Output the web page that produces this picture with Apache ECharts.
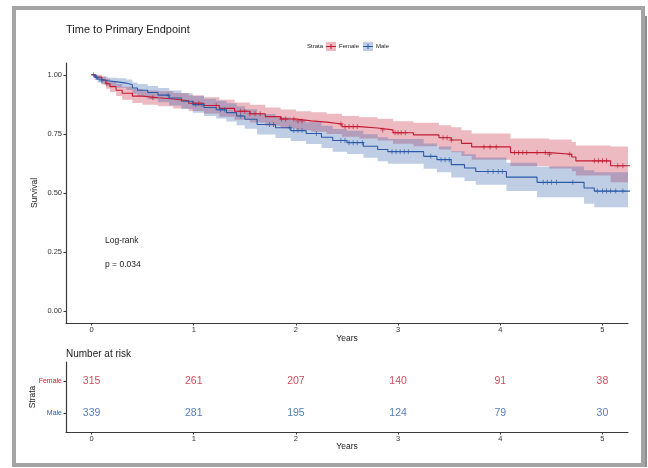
<!DOCTYPE html>
<html>
<head>
<meta charset="utf-8">
<script src="https://cdn.jsdelivr.net/npm/echarts@6/dist/echarts.min.js"></script>
<style>
html, body { margin: 0; padding: 0; background: #fff; }
#chart { width: 648px; height: 468px; }
</style>
</head>
<body>
<div id="chart"></div>
<script>
// Kaplan-Meier estimates (time in years, survival)
const femaleTime = [0, 0.04, 0.10, 0.14, 0.18, 0.24, 0.30, 0.40, 0.50, 0.65, 0.80, 0.95, 1.10, 1.25, 1.40, 1.55, 1.70, 1.85, 2.00, 2.15, 2.30, 2.45, 2.62, 2.80, 2.95, 3.15, 3.40, 3.52, 3.62, 3.72, 4.10, 4.48, 4.70, 4.74, 5.08, 5.50]
const femaleSurv = [1.000, 0.990, 0.978, 0.962, 0.950, 0.935, 0.922, 0.910, 0.903, 0.898, 0.890, 0.880, 0.870, 0.858, 0.846, 0.835, 0.823, 0.813, 0.805, 0.800, 0.792, 0.781, 0.775, 0.767, 0.755, 0.746, 0.734, 0.724, 0.710, 0.695, 0.671, 0.664, 0.652, 0.636, 0.615, 0.615]
const femaleUpper = [1.000, 1.000, 0.994, 0.983, 0.973, 0.961, 0.950, 0.940, 0.934, 0.930, 0.923, 0.914, 0.905, 0.894, 0.883, 0.873, 0.862, 0.853, 0.846, 0.842, 0.835, 0.826, 0.821, 0.814, 0.804, 0.797, 0.787, 0.778, 0.766, 0.752, 0.731, 0.726, 0.716, 0.701, 0.697, 0.697]
const femaleLower = [1.000, 0.979, 0.962, 0.941, 0.927, 0.910, 0.895, 0.881, 0.873, 0.867, 0.858, 0.847, 0.836, 0.823, 0.810, 0.798, 0.785, 0.774, 0.765, 0.759, 0.750, 0.738, 0.731, 0.722, 0.708, 0.698, 0.684, 0.672, 0.657, 0.641, 0.614, 0.604, 0.592, 0.574, 0.545, 0.545]
const femaleCensor = [0.02, 0.15, 0.60, 1.00, 1.05, 1.22, 1.46, 1.50, 1.55, 1.60, 1.65, 1.86, 1.90, 1.98, 2.02, 2.06, 2.44, 2.48, 2.52, 2.56, 2.60, 2.85, 2.97, 3.00, 3.03, 3.07, 3.44, 3.48, 3.52, 3.84, 3.90, 3.96, 4.14, 4.18, 4.22, 4.26, 4.36, 4.44, 4.48, 4.68, 4.92, 4.96, 5.00, 5.04, 5.15, 5.20]

const maleTime = [0, 0.03, 0.06, 0.10, 0.16, 0.25, 0.34, 0.40, 0.45, 0.55, 0.65, 0.76, 0.88, 0.99, 1.10, 1.22, 1.32, 1.42, 1.50, 1.62, 1.80, 1.95, 2.10, 2.25, 2.36, 2.50, 2.66, 2.80, 2.90, 3.25, 3.38, 3.52, 3.65, 3.76, 4.06, 4.36, 4.82, 4.92, 5.50]
const maleSurv = [1.000, 0.990, 0.981, 0.975, 0.970, 0.965, 0.958, 0.944, 0.935, 0.925, 0.914, 0.902, 0.888, 0.874, 0.862, 0.852, 0.840, 0.826, 0.812, 0.790, 0.776, 0.764, 0.752, 0.736, 0.722, 0.713, 0.698, 0.684, 0.675, 0.655, 0.641, 0.620, 0.606, 0.591, 0.567, 0.545, 0.521, 0.508, 0.508]
const maleUpper = [1.000, 1.000, 0.995, 0.992, 0.988, 0.985, 0.980, 0.968, 0.961, 0.953, 0.944, 0.934, 0.922, 0.910, 0.899, 0.890, 0.880, 0.867, 0.854, 0.834, 0.821, 0.810, 0.799, 0.784, 0.771, 0.763, 0.749, 0.736, 0.728, 0.709, 0.697, 0.677, 0.664, 0.650, 0.628, 0.612, 0.596, 0.588, 0.588]
const maleLower = [1.000, 0.979, 0.967, 0.959, 0.952, 0.945, 0.936, 0.920, 0.909, 0.897, 0.884, 0.870, 0.855, 0.839, 0.826, 0.815, 0.802, 0.787, 0.772, 0.748, 0.733, 0.720, 0.707, 0.690, 0.675, 0.665, 0.649, 0.634, 0.624, 0.603, 0.588, 0.566, 0.551, 0.535, 0.508, 0.482, 0.455, 0.440, 0.440]
const maleCensor = [0.05, 0.10, 0.75, 1.02, 1.08, 1.26, 1.30, 1.46, 1.74, 1.78, 1.94, 1.98, 2.02, 2.06, 2.20, 2.44, 2.48, 2.52, 2.56, 2.60, 2.65, 2.94, 2.98, 3.02, 3.06, 3.10, 3.32, 3.42, 3.46, 3.50, 3.88, 3.93, 3.98, 4.02, 4.42, 4.46, 4.50, 4.55, 4.71, 4.95, 5.00, 5.04, 5.08, 5.13, 5.20]

// number at risk table
const riskTimes = [0, 1, 2, 3, 4, 5]
const femaleRisk = [315, 261, 207, 140, 91, 38]
const maleRisk = [339, 281, 195, 124, 79, 30]

const yTicks = [0, 0.25, 0.5, 0.75, 1]
const xTicks = [0, 1, 2, 3, 4, 5]

const red = '#C41A32'
const blue = '#2B5BA8'
const redBand = 'rgba(196,26,50,0.3)'
const blueBand = 'rgba(43,91,168,0.3)'
const axisColor = '#3a3a3a'
const font = 'Liberation Sans, Arial, sans-serif'

const myChart = echarts.init(document.getElementById('chart'), null, { renderer: 'canvas' })

const survAt = (times, surv, t) => {
	let k = 0
	for (let i = 0; i < times.length; i++) if (times[i] <= t) k = i
	return surv[k]
}
const pairs = (t, v) => t.map((x, i) => [x, v[i]])

// confidence band as one stepped polygon, placed through the axes
const band = (t, lo, hi, fill) => ({
	type: 'custom', data: [[0]], silent: true, z: 1,
	renderItem: (params, api) => {
		const top = []
		const bottom = []
		for (let i = 0; i < t.length; i++) {
			const x2 = i + 1 < t.length ? t[i + 1] : t[i]
			top.push(api.coord([t[i], hi[i]]), api.coord([x2, hi[i]]))
			bottom.push(api.coord([t[i], lo[i]]), api.coord([x2, lo[i]]))
		}
		const cs = params.coordSys
		const pts = echarts.graphic.clipPointsByRect(top.concat(bottom.reverse()), { x: cs.x, y: cs.y, width: cs.width, height: cs.height })
		return { type: 'polygon', shape: { points: pts }, style: { fill: fill } }
	},
})

const curve = (name, t, s, color) => ({
	name: name, type: 'line', step: 'end', data: pairs(t, s),
	symbol: 'none', lineStyle: { color: color, width: 1.1 }, z: 3,
})

const crossPath = 'path://M-0.5,-3H0.5V-0.5H3V0.5H0.5V3H-0.5V0.5H-3V-0.5H-0.5Z'
const marks = (times, t, s, color) => ({
	type: 'scatter', data: times.map((c) => [c, survAt(t, s, c)]),
	symbol: crossPath, symbolSize: 5, itemStyle: { color: color }, z: 4,
})

const risk = (counts, row, color) => ({
	type: 'scatter', xAxisIndex: 1, yAxisIndex: 1,
	data: riskTimes.map((t, i) => [t, row, counts[i]]),
	symbolSize: 1, itemStyle: { color: 'rgba(0,0,0,0)' },
	label: { show: true, position: 'inside', formatter: (p) => p.value[2], color: color, fontSize: 10.5, fontFamily: font },
})

const xAxisBase = {
	type: 'value', min: -0.25, max: 5.25,
	axisLine: { show: true, onZero: false, lineStyle: { color: axisColor, width: 1.2 } },
	axisTick: { show: true, length: 2.5, customValues: xTicks, lineStyle: { color: axisColor } },
	axisLabel: { customValues: xTicks, margin: 3, fontSize: 7.5, color: '#333', fontFamily: font },
	splitLine: { show: false },
	name: 'Years', nameLocation: 'middle', nameMoveOverlap: false,
	nameTextStyle: { fontSize: 8.5, color: '#222', fontFamily: font },
}

const legendText = (text, x) => ({
	type: 'text', x: x, y: 46.5, style: { text: text, fontSize: 6, fill: '#222', fontFamily: font, verticalAlign: 'middle' },
})
const legendKey = (x, color, fill) => [
	{ type: 'rect', shape: { x: x, y: 42, width: 10, height: 9 }, style: { fill: fill } },
	{ type: 'line', shape: { x1: x, y1: 46.5, x2: x + 10, y2: 46.5 }, style: { stroke: color, lineWidth: 1 } },
	{ type: 'line', shape: { x1: x + 5, y1: 44, x2: x + 5, y2: 49 }, style: { stroke: color, lineWidth: 1 } },
]

let option = {
	animation: false,
	title: [
		{ text: 'Time to Primary Endpoint', left: 61, top: 19, textStyle: { fontSize: 11, fontWeight: 'normal', color: '#1a1a1a', fontFamily: font } },
		{ text: 'Number at risk', left: 61, top: 344, textStyle: { fontSize: 10, fontWeight: 'normal', color: '#1a1a1a', fontFamily: font } },
	],
	grid: [
		{ left: 66, top: 63, width: 562, height: 260, outerBoundsMode: 'none' },
		{ left: 66, top: 362, width: 562, height: 70, outerBoundsMode: 'none' },
	],
	xAxis: [
		Object.assign({}, xAxisBase, { gridIndex: 0, nameGap: 11 }),
		Object.assign({}, xAxisBase, { gridIndex: 1, nameGap: 10 }),
	],
	yAxis: [
		{
			type: 'value', gridIndex: 0, min: -0.05, max: 1.05,
			axisLine: { show: true, onZero: false, lineStyle: { color: axisColor, width: 1.2 } },
			axisTick: { show: true, length: 2.5, customValues: yTicks, lineStyle: { color: axisColor } },
			axisLabel: { customValues: yTicks, margin: 4, fontSize: 7.5, color: '#333', fontFamily: font, formatter: (v) => v.toFixed(2) },
			splitLine: { show: false },
			name: 'Survival', nameLocation: 'middle', nameGap: 27, nameMoveOverlap: false,
			nameTextStyle: { fontSize: 8.5, color: '#222', fontFamily: font },
		},
		{
			type: 'value', gridIndex: 1, min: 0.4, max: 2.6,
			axisLine: { show: true, onZero: false, lineStyle: { color: axisColor, width: 1.2 } },
			axisTick: { show: true, length: 2.5, customValues: [1, 2], lineStyle: { color: axisColor } },
			axisLabel: {
				customValues: [1, 2], margin: 4, fontFamily: font,
				formatter: (v) => (v === 2 ? '{f|Female}' : '{m|Male}'),
				rich: { f: { color: red, fontSize: 7, fontFamily: font }, m: { color: blue, fontSize: 7, fontFamily: font } },
			},
			splitLine: { show: false },
			name: 'Strata', nameLocation: 'middle', nameGap: 29, nameMoveOverlap: false,
			nameTextStyle: { fontSize: 8.5, color: '#222', fontFamily: font },
		},
	],
	graphic: [
		{ type: 'rect', shape: { x: 644, y: 16, width: 3, height: 451 }, style: { fill: '#8e8e8e' }, silent: true },
		{ type: 'rect', shape: { x: 14, y: 8, width: 629, height: 457 }, style: { fill: 'none', stroke: '#a4a4a4', lineWidth: 4 }, silent: true },
		legendText('Strata', 307),
		...legendKey(326, red, redBand),
		legendText('Female', 339),
		...legendKey(363, blue, blueBand),
		legendText('Male', 376),
		{ type: 'text', x: 105, y: 241, style: { text: 'Log-rank', fontSize: 8.5, fill: '#222', fontFamily: font, verticalAlign: 'middle' } },
		{ type: 'text', x: 105, y: 265, style: { text: 'p = 0.034', fontSize: 8.5, fill: '#222', fontFamily: font, verticalAlign: 'middle' } },
	],
	series: [
		band(femaleTime, femaleLower, femaleUpper, redBand),
		band(maleTime, maleLower, maleUpper, blueBand),
		curve('Female', femaleTime, femaleSurv, red),
		curve('Male', maleTime, maleSurv, blue),
		marks(femaleCensor, femaleTime, femaleSurv, red),
		marks(maleCensor, maleTime, maleSurv, blue),
		risk(femaleRisk, 2, red),
		risk(maleRisk, 1, blue),
	],
}
myChart.setOption(option)

window.addEventListener('resize', () => {
	myChart.resize()
})
</script>
</body>
</html>
